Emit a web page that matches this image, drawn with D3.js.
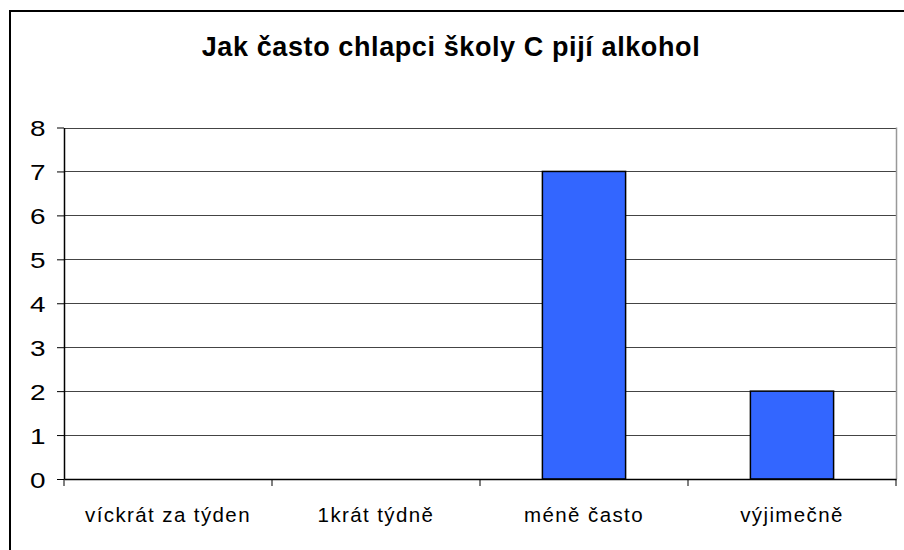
<!DOCTYPE html>
<html><head><meta charset="utf-8">
<script src="https://cdn.jsdelivr.net/npm/d3@7"></script>
<style>body{margin:0;background:#fff}svg{display:block}</style>
</head><body>
<script>
const categories = ["víckrát za týden", "1krát týdně", "méně často", "výjimečně"];
const values = [0, 0, 7, 2];
const yTicks = [0, 1, 2, 3, 4, 5, 6, 7, 8];
const title = "Jak často chlapci školy C pijí alkohol";

const W = 904, H = 550;
const FONT = "Liberation Sans, Arial, sans-serif";
const svg = d3.select("body").append("svg").attr("width", W).attr("height", H);
svg.append("rect").attr("x", 0).attr("y", 0).attr("width", W).attr("height", H).attr("fill", "#fff");
// outer frame (clipped at right/bottom)
svg.append("rect").attr("x", 10).attr("y", 11).attr("width", 920).attr("height", 600)
  .attr("fill", "none").attr("stroke", "#000").attr("stroke-width", 2);

const L = 64, R = 896, T = 127.5, B = 479;
const x = d3.scaleBand().domain(categories).range([L, R]).paddingInner(0.6).paddingOuter(0.3);
const xOuter = d3.scaleBand().domain(categories).range([L, R]);
const y = d3.scaleLinear().domain([0, 8]).range([B, T]);

svg.append("text").attr("x", 451).attr("y", 56).attr("text-anchor", "middle")
  .attr("font-family", FONT).attr("font-weight", "bold")
  .attr("font-size", 27).attr("letter-spacing", 0.6).text(title);

// gridlines
svg.append("g").selectAll("line").data(yTicks.filter(d => d > 0)).join("line")
  .attr("x1", L).attr("x2", R).attr("y1", d => Math.round(y(d)) + 0.5).attr("y2", d => Math.round(y(d)) + 0.5)
  .attr("stroke", "#444").attr("stroke-width", 1);
// right border of plot
svg.append("line").attr("x1", R + 0.5).attr("x2", R + 0.5).attr("y1", T).attr("y2", B)
  .attr("stroke", "#999").attr("stroke-width", 1.5);

// bars
svg.append("g").selectAll("rect").data(values.map((v, i) => ({c: categories[i], v}))).join("rect")
  .attr("x", d => x(d.c)).attr("width", x.bandwidth())
  .attr("y", d => y(d.v)).attr("height", d => y(0) - y(d.v))
  .attr("fill", d => d.v > 0 ? "#3366FF" : "none").attr("stroke", d => d.v > 0 ? "#000" : "none").attr("stroke-width", 1.5);

// y axis
const ya = svg.append("g").attr("transform", `translate(${L},0)`)
  .call(d3.axisLeft(y).tickValues(yTicks).tickSize(7).tickPadding(12).tickSizeOuter(0));
ya.select(".domain").attr("stroke", "#000").attr("stroke-width", 1.5);
ya.selectAll(".tick line").attr("stroke", "#000");
ya.selectAll(".tick text").attr("font-family", FONT).attr("font-size", 22).attr("fill", "#000")
  .attr("x", 0).attr("transform", "translate(-18.5,1) scale(1.27,1)");

// x axis
const xa = svg.append("g").attr("transform", `translate(0,${B})`)
  .call(d3.axisBottom(xOuter).tickSize(0).tickPadding(28).tickSizeOuter(0));
xa.select(".domain").attr("stroke", "#000").attr("stroke-width", 1.5);
xa.selectAll("text").attr("font-family", FONT).attr("font-size", 20.5).attr("letter-spacing", 1.4).attr("fill", "#000");
// category boundary ticks
const bounds = categories.map(c => xOuter(c)).concat([R]);
xa.append("g").selectAll("line").data(bounds).join("line")
  .attr("x1", d => d).attr("x2", d => d).attr("y1", 0).attr("y2", 7).attr("stroke", "#000").attr("stroke-width", 1);
</script>
</body></html>
